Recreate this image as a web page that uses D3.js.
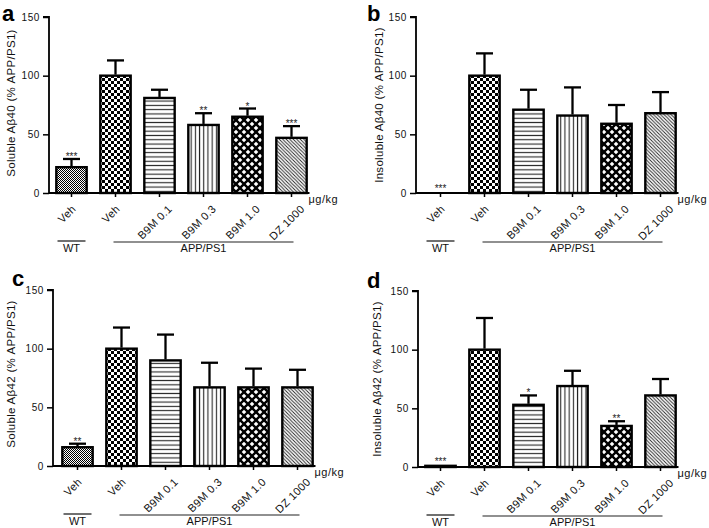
<!DOCTYPE html>
<html><head><meta charset="utf-8">
<script src="https://cdn.jsdelivr.net/npm/d3@7"></script>
<style>
body{margin:0;background:#fff;}
svg{display:block;font-family:"Liberation Sans",Arial,sans-serif;}
</style></head>
<body><svg id="c" width="709" height="528"></svg>
<script>
// ---- data ----
const categories = ["Veh","Veh","B9M 0.1","B9M 0.3","B9M 1.0","DZ 1000"];
const groupLabels = ["WT","APP/PS1"];
const unitLabel = "μg/kg";
const yTicks = [0,50,100,150];

const solubleAb40Mean   = [22, 100, 81, 58, 65, 47];
const solubleAb40Upper  = [29, 113, 88, 68, 72, 57];
const solubleAb40Stars  = ["***","","","**","*","***"];

const insolubleAb40Mean  = [0, 100, 71, 66, 59, 68];
const insolubleAb40Upper = [0, 119, 88, 90, 75, 86];
const insolubleAb40Stars = ["***","","","","",""];

const solubleAb42Mean   = [16, 100, 90, 67, 67, 67];
const solubleAb42Upper  = [19, 118, 112, 88, 83, 82];
const solubleAb42Stars  = ["**","","","","",""];

const insolubleAb42Mean  = [1, 100, 53, 69, 35, 61];
const insolubleAb42Upper = [1, 127, 61, 82, 39, 75];
const insolubleAb42Stars = ["***","","*","","**",""];

// ---- layout ----
const panels = [
  {letter:"a", ylabel:"Soluble Aβ40 (% APP/PS1)", mean:solubleAb40Mean, upper:solubleAb40Upper, stars:solubleAb40Stars,
   axisX:49, y0:193, yTop:17, band:[49.5,313.5], lx:2, ly:20.5, ylx:11, ylOff:-2},
  {letter:"b", ylabel:"Insoluble Aβ40 (% APP/PS1)", mean:insolubleAb40Mean, upper:insolubleAb40Upper, stars:insolubleAb40Stars,
   axisX:416, y0:193, yTop:17, band:[418.5,682.5], lx:367, ly:20.5, ylx:379, ylOff:0},
  {letter:"c", ylabel:"Soluble Aβ42 (% APP/PS1)", mean:solubleAb42Mean, upper:solubleAb42Upper, stars:solubleAb42Stars,
   axisX:53, y0:466, yTop:290, band:[55.5,319.5], lx:12, ly:286, ylx:11, ylOff:-4},
  {letter:"d", ylabel:"Insoluble Aβ42 (% APP/PS1)", mean:insolubleAb42Mean, upper:insolubleAb42Upper, stars:insolubleAb42Stars,
   axisX:418, y0:467, yTop:291, band:[418.5,682.5], lx:367, ly:288, ylx:377, ylOff:0}
];

const svg = d3.select("#c");
const defs = svg.append("defs");

function pat(id, w, h){
  return defs.append("pattern").attr("id",id).attr("patternUnits","userSpaceOnUse")
    .attr("width",w).attr("height",h);
}
let p = pat("p0",2,2);
p.append("rect").attr("width",2).attr("height",2).attr("fill","#fff");
p.append("rect").attr("width",1).attr("height",1).attr("fill","#000");
p.append("rect").attr("x",1).attr("y",1).attr("width",1).attr("height",1).attr("fill","#000");
p = pat("p1",6,6);
p.append("rect").attr("width",6).attr("height",6).attr("fill","#fff");
p.append("rect").attr("width",3).attr("height",3).attr("fill","#000");
p.append("rect").attr("x",3).attr("y",3).attr("width",3).attr("height",3).attr("fill","#000");
p = pat("p2",4,4.3);
p.append("rect").attr("width",4).attr("height",4.3).attr("fill","#fff");
p.append("rect").attr("y",1.6).attr("width",4).attr("height",1.1).attr("fill","#222");
p = pat("p3",4.2,4);
p.append("rect").attr("width",4.2).attr("height",4).attr("fill","#fff");
p.append("rect").attr("x",1.6).attr("width",1.1).attr("height",4).attr("fill","#222");
p = pat("p4",8,8);
p.append("rect").attr("width",8).attr("height",8).attr("fill","#000");
p.append("path").attr("fill","#fff")
  .attr("d","M4,1.7L6.3,4L4,6.3L1.7,4Z M0,-2.3L2.3,0L0,2.3L-2.3,0Z M8,-2.3L10.3,0L8,2.3L5.7,0Z M0,5.7L2.3,8L0,10.3L-2.3,8Z M8,5.7L10.3,8L8,10.3L5.7,8Z");
p = pat("p5",3.5,3.5);
p.append("rect").attr("width",3.5).attr("height",3.5).attr("fill","#fff");
p.append("path").attr("stroke","#222").attr("stroke-width",0.9)
  .attr("d","M-1,-1L4.5,4.5 M-1,2.5L1,4.5 M2.5,-1L4.5,1");

const fills = ["url(#p0)","url(#p1)","url(#p2)","url(#p3)","url(#p4)","url(#p5)"];

panels.forEach(P => {
  const g = svg.append("g");
  const idx = d3.range(categories.length);
  const x = d3.scaleBand().domain(idx).range(P.band).paddingInner(0.31).paddingOuter(0.155);
  const y = d3.scaleLinear().domain([0,150]).range([P.y0, P.yTop]);
  const bw = x.bandwidth();
  const cx = i => x(i) + bw/2;

  g.selectAll("rect.bar").data(idx.filter(i => P.mean[i] > 0)).join("rect")
    .attr("x", i => x(i)).attr("y", i => y(P.mean[i]))
    .attr("width", bw).attr("height", i => y(0) - y(P.mean[i]))
    .attr("fill", i => fills[i]).attr("stroke","#000").attr("stroke-width",2.4);

  const capW = 17;
  const eg = g.selectAll("g.err").data(idx.filter(i => P.upper[i] > P.mean[i])).join("g");
  eg.append("line").attr("x1",cx).attr("x2",cx)
    .attr("y1", i => y(P.mean[i]) - 1).attr("y2", i => y(P.upper[i]))
    .attr("stroke","#000").attr("stroke-width",2.3);
  eg.append("line").attr("x1", i => cx(i) - capW/2).attr("x2", i => cx(i) + capW/2)
    .attr("y1", i => y(P.upper[i])).attr("y2", i => y(P.upper[i]))
    .attr("stroke","#000").attr("stroke-width",2.3);

  g.selectAll("text.star").data(idx.filter(i => P.stars[i])).join("text")
    .attr("x", cx).attr("y", i => y(P.upper[i]) + (P.upper[i] > P.mean[i] ? 1 : -1))
    .attr("text-anchor","middle").attr("font-size",10).attr("fill","#222")
    .text(i => P.stars[i]);

  const yAxis = d3.axisLeft(y).tickValues(yTicks).tickSize(6).tickPadding(3);
  const ya = g.append("g").attr("transform",`translate(${P.axisX},0)`).call(yAxis);
  ya.select(".domain").attr("d", `M-6,${y(150)}H0V${y(0)}`).attr("stroke-width",1.8);
  ya.selectAll(".tick line").attr("stroke-width",1.5);
  ya.selectAll(".tick text").attr("font-size",10).attr("letter-spacing",0.6)
    .attr("font-family","Liberation Sans,Arial,sans-serif").attr("fill","#111");

  const axisEnd = P.band[1] - 4;
  const xAxis = d3.axisBottom(x).tickSize(4).tickFormat(i => categories[i]);
  const xa = g.append("g").attr("transform",`translate(0,${P.y0})`).call(xAxis);
  xa.select(".domain").attr("d", `M${P.axisX},0H${axisEnd}`).attr("stroke-width",1.8);
  xa.selectAll(".tick line").attr("stroke-width",1.5);
  const fs = 11, asc = fs*0.72, desc = fs*0.2;
  xa.selectAll(".tick text").each(function(){
    const t = d3.select(this);
    t.attr("font-size",fs).attr("letter-spacing",0.3).attr("font-family","Liberation Sans,Arial,sans-serif").attr("fill","#111")
     .attr("text-anchor","end").attr("dy",null);
    const L = this.getComputedTextLength();
    const ax = -4 + (L + asc - desc)*0.3535;
    const ay = 11 + asc*0.707;
    t.attr("x",0).attr("y",0).attr("transform",`translate(${ax},${ay}) rotate(-45)`);
  });

  g.append("text").attr("x", axisEnd - 1).attr("y", P.y0 + 10)
    .attr("font-size",11).attr("letter-spacing",0.5).attr("fill","#111").text(unitLabel);

  const lineY = P.y0 + 48, textY = P.y0 + 59;
  g.append("line").attr("x1", cx(0) - 14).attr("x2", cx(0) + 14).attr("y1", lineY).attr("y2", lineY)
    .attr("stroke","#222").attr("stroke-width",1.3);
  g.append("text").attr("x", cx(0)).attr("y", textY).attr("text-anchor","middle")
    .attr("font-size",11).attr("fill","#111").text(groupLabels[0]);
  const last = categories.length - 1;
  g.append("line").attr("x1", cx(1) - 2).attr("x2", cx(last) + 2).attr("y1", lineY + 1).attr("y2", lineY + 1)
    .attr("stroke","#222").attr("stroke-width",1.1);
  g.append("text").attr("x", (cx(1) + cx(last))/2).attr("y", textY).attr("text-anchor","middle")
    .attr("font-size",11).attr("fill","#111").text(groupLabels[1]);

  const ym = (P.y0 + P.yTop)/2 + P.ylOff;
  g.append("text").attr("transform",`translate(${P.ylx + 4},${ym}) rotate(-90)`)
    .attr("text-anchor","middle").attr("font-size",11.5).attr("letter-spacing",0.3).attr("fill","#111")
    .text(P.ylabel);

  g.append("text").attr("x",P.lx).attr("y",P.ly).attr("font-size",22).attr("font-weight","bold")
    .attr("font-family","Liberation Sans,Arial,sans-serif").attr("fill","#000").text(P.letter);
});
</script></body></html>
